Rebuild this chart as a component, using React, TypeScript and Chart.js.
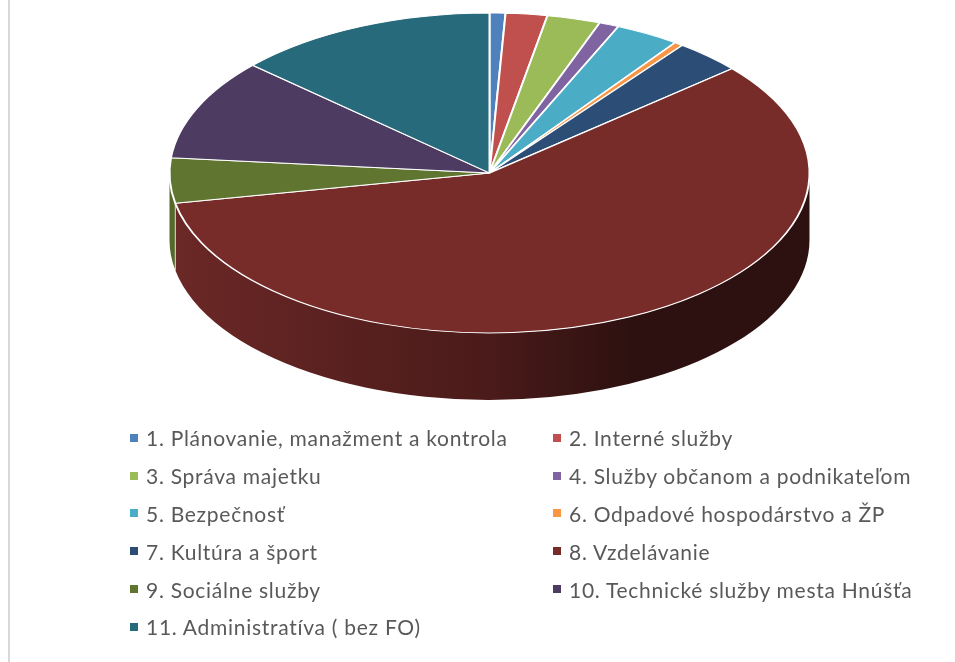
import React, { useEffect, useRef } from "react";
import { Chart, registerables } from "chart.js";

Chart.register(...registerables);

const categories = [
  "1. Plánovanie, manažment a kontrola",
  "2. Interné služby",
  "3. Správa majetku",
  "4. Služby občanom a podnikateľom",
  "5. Bezpečnosť",
  "6. Odpadové hospodárstvo a ŽP",
  "7. Kultúra a šport",
  "8. Vzdelávanie",
  "9. Sociálne služby",
  "10. Technické služby mesta Hnúšťa",
  "11. Administratíva ( bez FO)",
];
const shares = [0.8, 2.1, 2.7, 1.0, 3.25, 0.45, 3.4, 58.3, 4.55, 10.25, 13.25];
const colors = [
  "#4f81bd", "#c0504d", "#9bbb59", "#8064a2", "#4bacc6", "#f79646",
  "#2c4d75", "#772c2a", "#5f7530", "#4d3b62", "#276a7c",
];

const RADIUS = 160;
const STRETCH = 2;
const DEPTH = 67;

function shade(hex: string, k: number) {
  const n = parseInt(hex.slice(1), 16);
  const c = [(n >> 16) & 255, (n >> 8) & 255, n & 255].map((v) => Math.round(v * k));
  return `rgb(${c[0]},${c[1]},${c[2]})`;
}

const pie3d = {
  id: "pie3d",
  beforeDatasetsDraw(chart: any) {
    const ctx = chart.ctx;
    const arcs = chart.getDatasetMeta(0).data;
    const cx = arcs[0].x;
    const cy = arcs[0].y;
    const ry = arcs[0].outerRadius;
    const rx = ry * STRETCH;
    arcs.forEach((arc: any, i: number) => {
      const a = Math.max(arc.startAngle, 0);
      const b = Math.min(arc.endAngle, Math.PI);
      if (b <= a) return;
      const g = ctx.createLinearGradient(cx - rx, 0, cx + rx, 0);
      g.addColorStop(0, shade(colors[i], 0.9));
      g.addColorStop(0.5, shade(colors[i], 0.62));
      g.addColorStop(0.72, shade(colors[i], 0.38));
      g.addColorStop(1, shade(colors[i], 0.38));
      ctx.beginPath();
      ctx.ellipse(cx, cy, rx, ry, 0, a, b);
      ctx.ellipse(cx, cy + DEPTH, rx, ry, 0, b, a, true);
      ctx.closePath();
      ctx.fillStyle = g;
      ctx.fill();
    });
    arcs.forEach((arc: any) => {
      const e = arc.endAngle;
      if (e <= 0 || e >= Math.PI) return;
      const x = cx + rx * Math.cos(e);
      const y = cy + ry * Math.sin(e);
      ctx.beginPath();
      ctx.moveTo(x, y);
      ctx.lineTo(x, y + DEPTH);
      ctx.strokeStyle = "rgba(255,255,255,0.75)";
      ctx.lineWidth = 1;
      ctx.stroke();
    });
    ctx.save();
    ctx.translate(cx, cy);
    ctx.scale(STRETCH, 1);
    ctx.translate(-cx, -cy);
  },
  afterDatasetsDraw(chart: any) {
    chart.ctx.restore();
  },
};

export default function App() {
  const ref = useRef<HTMLCanvasElement | null>(null);
  useEffect(() => {
    const chart = new Chart(ref.current as HTMLCanvasElement, {
      type: "pie",
      data: {
        labels: categories,
        datasets: [
          {
            data: shares,
            backgroundColor: colors,
            borderColor: "#ffffff",
            borderWidth: 1,
            radius: RADIUS,
          } as any,
        ],
      },
      options: {
        responsive: false,
        animation: false,
        layout: { padding: { left: 24, right: 0, top: 0, bottom: 316 } },
        plugins: { legend: { display: false }, tooltip: { enabled: false } },
      },
      plugins: [pie3d],
    } as any);
    return () => chart.destroy();
  }, []);

  return (
    <div style={{ position: "absolute", left: 0, top: 0, width: 955, height: 662, background: "#fff", overflow: "hidden" }}>
      <canvas ref={ref} width={955} height={662} style={{ position: "absolute", left: 0, top: 0 }} />
      <div style={{ position: "absolute", left: 8, top: 0, width: 2, height: 662, background: "#d9d9d9" }} />
      <div
        style={{
          position: "absolute",
          left: 130,
          top: 419,
          display: "grid",
          gridTemplateColumns: "423px 330px",
          gridAutoRows: "37.8px",
          fontFamily: "Lato",
          fontSize: 21,
          letterSpacing: 0.72,
          color: "#595959",
        }}
      >
        {categories.map((label, i) => (
          <div key={label} style={{ display: "flex", alignItems: "center", whiteSpace: "nowrap" }}>
            <span style={{ width: 8, height: 8, background: colors[i], marginRight: 8, flex: "none" }} />
            <span>{label}</span>
          </div>
        ))}
      </div>
    </div>
  );
}
